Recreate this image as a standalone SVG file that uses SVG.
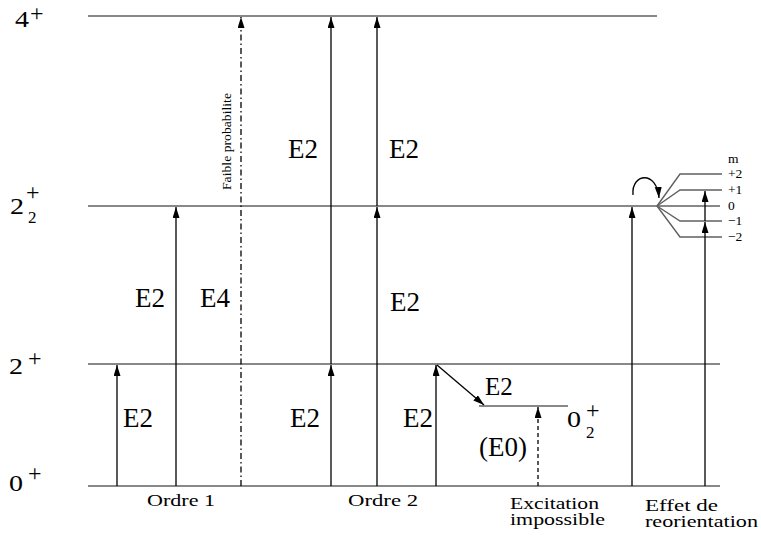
<svg xmlns="http://www.w3.org/2000/svg" width="761" height="540" viewBox="0 0 761 540" font-family="'Liberation Serif','DejaVu Serif','Times New Roman',serif">
<style>
text{font-family:"Liberation Serif","DejaVu Serif","Times New Roman",serif;fill:#000}
.lvl{stroke:#606060;stroke-width:1.4;fill:none}
.arr{stroke:#000;stroke-width:1.3;fill:none;marker-end:url(#ah)}
.e{font-size:27px}
.lab{font-size:24px}
.sup{font-size:24px}
.sub{font-size:17px}
.bot{font-size:16px}
.m{font-size:13.5px}
</style>
<defs>
<marker id="ah" markerUnits="userSpaceOnUse" markerWidth="12" markerHeight="8" refX="11" refY="3.5" orient="auto">
<path d="M0,0 L11,3.5 L0,7 z" fill="#000"/>
</marker>
</defs>
<g id="levels">
<line class="lvl" x1="88" y1="16" x2="657" y2="16"/>
<line class="lvl" x1="88" y1="206" x2="720" y2="206"/>
<line class="lvl" x1="88" y1="364" x2="720" y2="364"/>
<line class="lvl" x1="88" y1="486" x2="720" y2="486"/>
<line class="lvl" x1="479" y1="406" x2="568" y2="406"/>
<polyline class="lvl" points="657,206 680,174 722,174"/>
<polyline class="lvl" points="657,206 680,190 722,190"/>
<polyline class="lvl" points="657,206 680,221 722,221"/>
<polyline class="lvl" points="657,206 680,237 722,237"/>
</g>
<g id="level-labels">
<text class="lab" x="15" y="27" textLength="14" lengthAdjust="spacingAndGlyphs">4</text><text class="sup" x="30" y="21">+</text>
<text class="lab" x="10" y="214" textLength="14" lengthAdjust="spacingAndGlyphs">2</text><text class="sup" x="26" y="200">+</text><text class="sub" x="28" y="223">2</text>
<text class="lab" x="9" y="374" textLength="14" lengthAdjust="spacingAndGlyphs">2</text><text class="sup" x="28" y="366">+</text>
<text class="lab" x="9" y="491" textLength="14" lengthAdjust="spacingAndGlyphs">0</text><text class="sup" x="28" y="481">+</text>
<text class="lab" x="567" y="427" textLength="14" lengthAdjust="spacingAndGlyphs">0</text><text class="sup" x="586" y="418">+</text><text class="sub" x="586" y="438">2</text>
</g>
<g id="connectors">
<line class="arr" x1="117" y1="486" x2="117" y2="365"/>
<line class="arr" x1="176" y1="486" x2="176" y2="207"/>
<line class="arr" x1="241" y1="486" x2="241" y2="17" style="stroke-dasharray:6,3,1.5,3"/>
<line class="arr" x1="331" y1="486" x2="331" y2="365"/>
<line class="arr" x1="331" y1="364" x2="331" y2="17"/>
<line class="arr" x1="377" y1="486" x2="377" y2="207"/>
<line class="arr" x1="377" y1="206" x2="377" y2="17"/>
<line class="arr" x1="436" y1="486" x2="436" y2="365"/>
<line class="arr" x1="437" y1="365" x2="484" y2="405"/>
<line class="arr" x1="538" y1="486" x2="538" y2="407" style="stroke-dasharray:4,3"/>
<line class="arr" x1="632" y1="486" x2="632" y2="207"/>
<line class="arr" x1="705" y1="486" x2="705" y2="222"/>
<line class="arr" x1="705" y1="221" x2="705" y2="191"/>
<path class="arr" d="M633,195 C631,173 657,170 659,198"/>
</g>
<g id="transition-labels">
<text class="e" x="123" y="427">E2</text>
<text class="e" x="135" y="307">E2</text>
<text class="e" x="200" y="307">E4</text>
<text class="e" x="288" y="158">E2</text>
<text class="e" x="389" y="158">E2</text>
<text class="e" x="390" y="311">E2</text>
<text class="e" x="290" y="427">E2</text>
<text class="e" x="403" y="427">E2</text>
<text x="485" y="395" style="font-size:25px">E2</text>
<text class="e" x="479" y="456">(E0)</text>
<text transform="translate(231,190) rotate(-90)" style="font-size:13px" textLength="97" lengthAdjust="spacingAndGlyphs">Faible probabilite</text>
</g>
<g id="m-labels">
<text class="m" x="728" y="163">m</text>
<text class="m" x="728" y="178">+2</text>
<text class="m" x="728" y="194">+1</text>
<text class="m" x="728" y="210">0</text>
<text class="m" x="728" y="225">−1</text>
<text class="m" x="728" y="241">−2</text>
</g>
<g id="bottom-labels">
<text class="bot" x="147" y="506" textLength="68" lengthAdjust="spacingAndGlyphs">Ordre 1</text>
<text class="bot" x="348" y="506" textLength="70" lengthAdjust="spacingAndGlyphs">Ordre 2</text>
<text class="bot" x="510" y="509" textLength="89" lengthAdjust="spacingAndGlyphs">Excitation</text>
<text class="bot" x="510" y="525" textLength="95" lengthAdjust="spacingAndGlyphs">impossible</text>
<text class="bot" x="645" y="511" textLength="73" lengthAdjust="spacingAndGlyphs">Effet de</text>
<text class="bot" x="645" y="527" textLength="113" lengthAdjust="spacingAndGlyphs">reorientation</text>
</g>
</svg>
